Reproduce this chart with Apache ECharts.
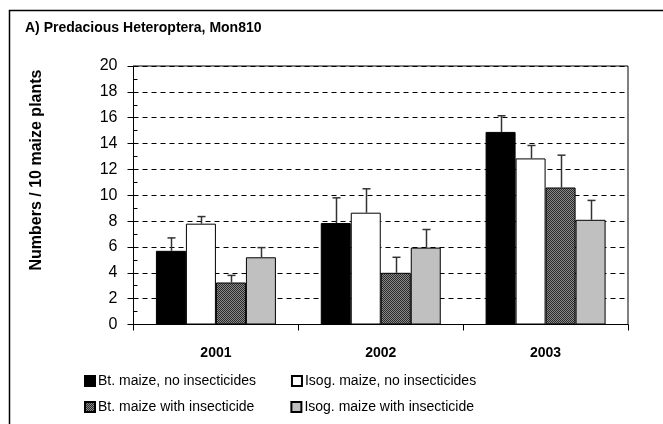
<!DOCTYPE html>
<html>
<head>
<meta charset="utf-8">
<script src="https://cdn.jsdelivr.net/npm/echarts@6/dist/echarts.min.js"></script>
<style>
  html, body { margin: 0; padding: 0; background: #fff; }
  #chart { width: 663px; height: 424px; }
</style>
</head>
<body>
<div id="chart"></div>
<script>
// data
const years = ['2001', '2002', '2003']
const seriesNames = [
  'Bt. maize, no insecticides',
  'Isog. maize, no insecticides',
  'Bt. maize with insecticide',
  'Isog. maize with insecticide'
]
const btNoIns = [5.7, 7.85, 14.9]
const isoNoIns = [7.8, 8.65, 12.85]
const btIns = [3.25, 4.0, 10.6]
const isoIns = [5.2, 5.95, 8.1]
// upper end of the error bars
const btNoInsTop = [6.7, 9.8, 16.15]
const isoNoInsTop = [8.35, 10.5, 13.85]
const btInsTop = [3.8, 5.2, 13.1]
const isoInsTop = [5.95, 7.35, 9.6]
const yTicks = [0, 2, 4, 6, 8, 10, 12, 14, 16, 18, 20]

const FONT = '"Liberation Sans", Arial, sans-serif'

// dotted texture for the dark bars
const pat = document.createElement('canvas')
pat.width = 2
pat.height = 2
const pctx = pat.getContext('2d')
pctx.fillStyle = '#8a8a8a'
pctx.fillRect(0, 0, 2, 2)
pctx.fillStyle = '#2a2a2a'
pctx.fillRect(0, 0, 1, 1)
pctx.fillRect(1, 1, 1, 1)

const colors = ['#000000', '#ffffff', { image: pat, repeat: 'repeat' }, '#c0c0c0']
const means = [btNoIns, isoNoIns, btIns, isoIns]
const tops = [btNoInsTop, isoNoInsTop, btInsTop, isoInsTop]
const BAR_W = 30

const barSeries = seriesNames.map((name, i) => ({
  name,
  type: 'bar',
  barWidth: BAR_W,
  barGap: '0%',
  data: means[i],
  itemStyle: { color: colors[i], borderColor: '#000', borderWidth: 1 },
  emphasis: { disabled: true }
}))

const errSeries = seriesNames.map((name, i) => ({
  type: 'custom',
  name: name + ' err',
  z: 5,
  encode: { x: 0, y: [1, 2] },
  data: years.map((y, k) => [k, means[i][k], tops[i][k]]),
  renderItem: (params, api) => {
    const off = (i - 1.5) * BAR_W
    const pm = api.coord([api.value(0), api.value(1)])
    const pt = api.coord([api.value(0), api.value(2)])
    const x = Math.round(pm[0] + off) + 0.5
    const st = { stroke: '#333', lineWidth: 1.5 }
    return {
      type: 'group',
      children: [
        { type: 'line', shape: { x1: x, y1: pm[1], x2: x, y2: pt[1] }, style: st },
        { type: 'line', shape: { x1: x - 4, y1: pt[1], x2: x + 4, y2: pt[1] }, style: st }
      ]
    }
  }
}))

const legendCommon = {
  left: 79,
  itemWidth: 10,
  itemHeight: 10,
  selectedMode: false,
  icon: 'rect',
  textStyle: { fontFamily: FONT, fontSize: 14, color: '#000', padding: [0, 0, 0, -2] }
}

const chart = echarts.init(document.getElementById('chart'), null, { renderer: 'canvas' })
chart.setOption({
  animation: false,
  backgroundColor: '#fff',
  title: {
    text: 'A) Predacious Heteroptera, Mon810',
    left: 20,
    top: 16,
    textStyle: { fontFamily: FONT, fontSize: 14, fontWeight: 'bold', color: '#000' }
  },
  graphic: [
    {
      // outer chart frame
      type: 'rect',
      silent: true,
      shape: { x: 9.5, y: 10.5, width: 700, height: 500 },
      style: { fill: null, stroke: '#000', lineWidth: 1.5 }
    },
    {
      type: 'text',
      silent: true,
      x: 37,
      y: 170,
      rotation: Math.PI / 2,
      style: {
        text: 'Numbers / 10 maize plants',
        align: 'center',
        verticalAlign: 'middle',
        fontFamily: FONT,
        fontSize: 16,
        fontWeight: 'bold',
        fill: '#000'
      }
    }
  ],
  legend: [
    Object.assign({ top: 369, itemGap: 35, data: [seriesNames[0], seriesNames[1]] }, legendCommon),
    Object.assign({ top: 395, itemGap: 36, data: [seriesNames[2], seriesNames[3]] }, legendCommon)
  ],
  grid: {
    left: 133.5,
    top: 66,
    right: 35,
    bottom: 99.5,
    show: true,
    borderColor: '#000',
    borderWidth: 1
  },
  xAxis: {
    type: 'category',
    data: years,
    axisLine: { lineStyle: { color: '#000', width: 1 } },
    axisTick: { show: true, alignWithLabel: false, length: 6, lineStyle: { color: '#000' } },
    axisLabel: { margin: 22, fontFamily: FONT, fontSize: 14, fontWeight: 'bold', color: '#000' },
    splitLine: { show: false }
  },
  yAxis: [
    {
      type: 'value',
      min: yTicks[0],
      max: yTicks[yTicks.length - 1],
      interval: 2,
      axisLine: { show: true, lineStyle: { color: '#000', width: 1 } },
      axisTick: { show: true, length: 6, lineStyle: { color: '#000' } },
      axisLabel: { margin: 16, fontFamily: FONT, fontSize: 16, color: '#000' },
      splitLine: { show: true, lineStyle: { color: '#000', type: [5, 4], width: 1 } }
    },
    {
      // minor ticks on the inner side
      type: 'value',
      min: 0,
      max: 20,
      interval: 1,
      position: 'left',
      axisLine: { show: false },
      axisTick: { show: true, inside: true, length: 4, lineStyle: { color: '#000' } },
      axisLabel: { show: false },
      splitLine: { show: false }
    }
  ],
  series: barSeries.concat(errSeries)
})
</script>
</body>
</html>
